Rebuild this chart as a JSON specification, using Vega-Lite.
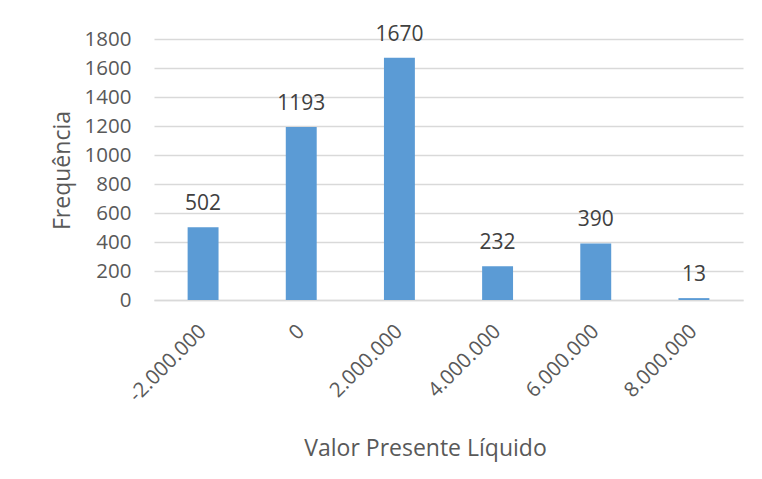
{
  "$schema": "https://vega.github.io/schema/vega-lite/v6.json",
  "autosize": "none",
  "width": 589,
  "height": 261,
  "padding": {"left": 154, "top": 39, "right": 19, "bottom": 179},
  "background": "white",
  "config": {"view": {"stroke": null}, "font": "Open Sans"},
  "data": {"values": [
    {"vpl": "-2.000.000", "ord": 1, "freq": 502},
    {"vpl": "0", "ord": 2, "freq": 1193},
    {"vpl": "2.000.000", "ord": 3, "freq": 1670},
    {"vpl": "4.000.000", "ord": 4, "freq": 232},
    {"vpl": "6.000.000", "ord": 5, "freq": 390},
    {"vpl": "8.000.000", "ord": 6, "freq": 13}
  ]},
  "encoding": {
    "x": {"field": "vpl", "type": "ordinal", "sort": {"field": "ord"},
      "scale": {"paddingInner": 0.685, "paddingOuter": 0.3425},
      "axis": {"title": "Valor Presente Líquido", "titleFont": "Open Sans", "titleFontSize": 23, "titleFontWeight": "normal", "titleColor": "#595959",
        "titleX": 271, "titleY": 148, "titleBaseline": "middle", "titleAlign": "center",
        "labelAngle": -45, "labelAlign": "right", "labelBaseline": "middle", "labelPadding": 28,
        "labelFontSize": 20.5, "labelColor": "#595959", "ticks": false, "domainColor": "#d9d9d9", "domainWidth": 1.5}},
    "y": {"field": "freq", "type": "quantitative",
      "scale": {"domain": [0, 1800], "nice": false},
      "axis": {"title": "Frequência", "titleFontSize": 23, "titleFontWeight": "normal", "titleColor": "#595959",
        "titleX": -92, "titleY": 131, "titleAngle": -90, "titleBaseline": "middle", "titleAlign": "center",
        "values": [0, 200, 400, 600, 800, 1000, 1200, 1400, 1600, 1800], "format": "d",
        "labelFontSize": 20.5, "labelColor": "#595959", "labelPadding": 23, "ticks": false, "domain": false,
        "gridColor": "#d9d9d9", "gridWidth": 1.5}}
  },
  "layer": [
    {"mark": {"type": "bar", "color": "#5B9BD5"}},
    {"mark": {"type": "text", "dy": -17, "baseline": "alphabetic", "fontSize": 21, "color": "#404040"},
     "encoding": {"text": {"field": "freq", "type": "quantitative", "format": "d"}}}
  ]
}
